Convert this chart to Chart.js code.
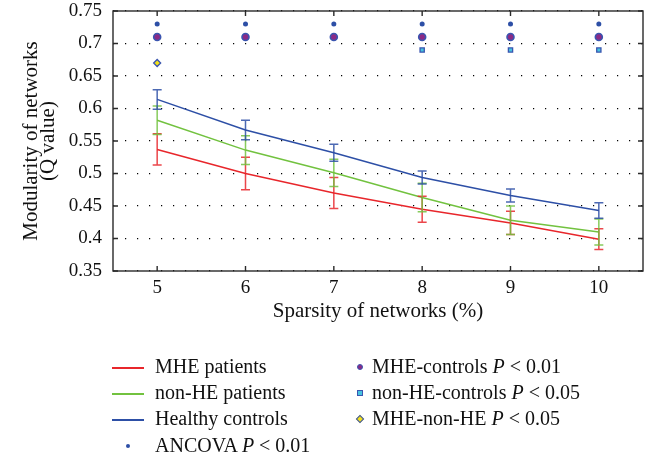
<!DOCTYPE html>
<html>
<head>
<meta charset="utf-8">
<script src="https://cdn.jsdelivr.net/npm/chart.js@4"></script>
<style>
  body { margin: 0; background: #fff; }
  #wrap { position: relative; width: 651px; height: 461px; }
  #legend { position: absolute; left: 0; top: 0; width: 651px; height: 461px; pointer-events: none;
    font-family: "Liberation Serif", "DejaVu Serif", serif; font-size: 20px; color: #111; }
  .item { position: absolute; white-space: nowrap; line-height: 22px; }
  .swatch { position: absolute; }
</style>
</head>
<body>
<div id="wrap">
  <canvas id="chart" width="651" height="461"></canvas>
  <div id="legend"></div>
</div>
<script>
const sparsity = [5, 6, 7, 8, 9, 10];

const mhePatients = [0.537, 0.500, 0.470, 0.445, 0.424, 0.399];
const mheErr = [0.024, 0.025, 0.024, 0.020, 0.018, 0.016];

const nonHePatients = [0.582, 0.536, 0.501, 0.463, 0.428, 0.410];
const nonHeErr = [0.022, 0.022, 0.021, 0.022, 0.022, 0.020];

const healthyControls = [0.614, 0.567, 0.532, 0.494, 0.466, 0.443];
const healthyErr = [0.015, 0.015, 0.013, 0.010, 0.010, 0.012];

const ancovaX = [5, 6, 7, 8, 9, 10];
const ancovaY = [0.73, 0.73, 0.73, 0.73, 0.73, 0.73];
const mheControlsX = [5, 6, 7, 8, 9, 10];
const mheControlsY = [0.71, 0.71, 0.71, 0.71, 0.71, 0.71];
const nonHeControlsX = [8, 9, 10];
const nonHeControlsY = [0.69, 0.69, 0.69];
const mheNonHeX = [5];
const mheNonHeY = [0.67];

const yTicks = [0.35, 0.4, 0.45, 0.5, 0.55, 0.6, 0.65, 0.7, 0.75];

const RED = "#e8262b";
const GREEN = "#72c23f";
const BLUE = "#2d4fa6";
const SERIF = "'Liberation Serif', 'DejaVu Serif', serif";

function toPoints(xs, ys) {
  return xs.map((x, i) => ({ x: x, y: ys[i] }));
}

// error bars drawn through the chart scales
const errorBars = {
  id: "errorBars",
  afterDatasetsDraw(chart) {
    const ctx = chart.ctx;
    const xs = chart.scales.x;
    const ys = chart.scales.y;
    chart.data.datasets.forEach((ds) => {
      if (!ds.errors) return;
      ctx.save();
      ctx.strokeStyle = ds.borderColor;
      ctx.globalAlpha = 0.85;
      ctx.lineWidth = 1.5;
      ds.data.forEach((p, i) => {
        const x = xs.getPixelForValue(p.x);
        const top = ys.getPixelForValue(p.y + ds.errors[i]);
        const bot = ys.getPixelForValue(p.y - ds.errors[i]);
        ctx.beginPath();
        ctx.moveTo(x, top); ctx.lineTo(x, bot);
        ctx.moveTo(x - 4.5, top); ctx.lineTo(x + 4.5, top);
        ctx.moveTo(x - 4.5, bot); ctx.lineTo(x + 4.5, bot);
        ctx.stroke();
      });
      ctx.restore();
    });
  }
};

// box frame with inward ticks on every side
const frame = {
  id: "frame",
  afterDraw(chart) {
    const ctx = chart.ctx;
    const a = chart.chartArea;
    const xs = chart.scales.x;
    const ys = chart.scales.y;
    ctx.save();
    ctx.strokeStyle = "#2a2a2a";
    ctx.lineWidth = 1.4;
    ctx.strokeRect(a.left, a.top, a.right - a.left, a.bottom - a.top);
    ctx.beginPath();
    sparsity.forEach((v) => {
      const x = xs.getPixelForValue(v);
      ctx.moveTo(x, a.bottom); ctx.lineTo(x, a.bottom - 5);
      ctx.moveTo(x, a.top); ctx.lineTo(x, a.top + 5);
    });
    yTicks.forEach((v) => {
      const y = ys.getPixelForValue(v);
      ctx.moveTo(a.left, y); ctx.lineTo(a.left + 5, y);
      ctx.moveTo(a.right, y); ctx.lineTo(a.right - 5, y);
    });
    ctx.stroke();
    ctx.restore();
  }
};

const lineDefaults = { showLine: true, pointRadius: 0, borderWidth: 1.5, fill: false, tension: 0 };

const chart = new Chart(document.querySelector("#chart").getContext("2d"), {
  type: "scatter",
  data: {
    datasets: [
      { ...lineDefaults, label: "MHE patients", data: toPoints(sparsity, mhePatients), errors: mheErr, borderColor: RED, backgroundColor: RED },
      { ...lineDefaults, label: "non-HE patients", data: toPoints(sparsity, nonHePatients), errors: nonHeErr, borderColor: GREEN, backgroundColor: GREEN },
      { ...lineDefaults, label: "Healthy controls", data: toPoints(sparsity, healthyControls), errors: healthyErr, borderColor: BLUE, backgroundColor: BLUE },
      { label: "ANCOVA", data: toPoints(ancovaX, ancovaY), pointStyle: "circle", pointRadius: 2.5, backgroundColor: BLUE, borderColor: BLUE, borderWidth: 0 },
      { label: "MHE-controls", data: toPoints(mheControlsX, mheControlsY), pointStyle: "circle", pointRadius: 3.5, backgroundColor: "#8b2a86", borderColor: "#3a55b0", borderWidth: 1.6 },
      { label: "non-HE-controls", data: toPoints(nonHeControlsX, nonHeControlsY), pointStyle: "rect", pointRadius: 3, backgroundColor: "#46c3df", borderColor: "#3a55b0", borderWidth: 1.3 },
      { label: "MHE-non-HE", data: toPoints(mheNonHeX, mheNonHeY), pointStyle: "rectRot", pointRadius: 3.5, backgroundColor: "#f2e01a", borderColor: "#3a55b0", borderWidth: 1.3 }
    ]
  },
  options: {
    responsive: false,
    animation: false,
    layout: { padding: { top: 11, right: 8, bottom: 121, left: 0 } },
    plugins: { legend: { display: false }, tooltip: { enabled: false } },
    scales: {
      x: {
        type: "linear",
        min: 4.5,
        max: 10.5,
        afterBuildTicks(scale) { scale.ticks = sparsity.map((v) => ({ value: v })); },
        afterFit(scale) { scale.height = 69; scale.paddingLeft = 0; scale.paddingRight = 0; },
        grid: { display: false, drawTicks: false },
        border: { display: false },
        ticks: { color: "#111", font: { family: SERIF, size: 19 }, padding: 6 },
        title: { display: true, text: "Sparsity of networks (%)", color: "#111", font: { family: SERIF, size: 21 }, padding: { top: 4, bottom: 16 } }
      },
      y: {
        min: 0.35,
        max: 0.75,
        afterBuildTicks(scale) { scale.ticks = yTicks.map((v) => ({ value: v })); },
        afterFit(scale) { scale.width = 113; scale.paddingTop = 0; scale.paddingBottom = 0; },
        grid: { color: "#000", lineWidth: 1.2, drawTicks: false },
        border: { display: false, dash: [1.2, 10.8] },
        ticks: { color: "#111", font: { family: SERIF, size: 19 }, padding: 11, callback: (v) => String(+v.toFixed(2)) },
        title: { display: true, text: ["Modularity of networks", "(Q value)"], color: "#111", font: { family: SERIF, size: 21, lineHeight: 0.81 }, padding: { top: 22.5, bottom: 4 } }
      }
    }
  },
  plugins: [errorBars, frame]
});

// legend in two columns below the chart
function createLegend() {
  const legend = document.querySelector("#legend");
  const left = [
    { text: "MHE patients", kind: "line", color: RED },
    { text: "non-HE patients", kind: "line", color: GREEN },
    { text: "Healthy controls", kind: "line", color: BLUE },
    { text: "ANCOVA <i>P</i> &lt; 0.01", kind: "dot" }
  ];
  const right = [
    { text: "MHE-controls <i>P</i> &lt; 0.01", kind: "circle" },
    { text: "non-HE-controls <i>P</i> &lt; 0.05", kind: "square" },
    { text: "MHE-non-HE <i>P</i> &lt; 0.05", kind: "diamond" }
  ];
  const rows = [367, 393, 419, 446];
  left.forEach((item, i) => {
    const y = rows[i];
    if (item.kind === "line") {
      legend.innerHTML += `<div class="swatch" style="left:112px;top:${y}px;width:32px;height:1.6px;background:${item.color}"></div>`;
    } else {
      legend.innerHTML += `<div class="swatch" style="left:126px;top:${y - 2}px;width:4px;height:4px;border-radius:50%;background:${BLUE}"></div>`;
    }
    legend.innerHTML += `<div class="item" style="left:155px;top:${y - 12}px">${item.text}</div>`;
  });
  right.forEach((item, i) => {
    const y = rows[i];
    let sw = "";
    if (item.kind === "circle") sw = `left:357px;top:${y - 3}px;width:4px;height:4px;border-radius:50%;background:#8b2a86;border:1.2px solid #3a55b0`;
    if (item.kind === "square") sw = `left:357px;top:${y - 3}px;width:4px;height:4px;background:#46c3df;border:1.2px solid #3a55b0`;
    if (item.kind === "diamond") sw = `left:357px;top:${y - 3}px;width:4px;height:4px;transform:rotate(45deg);background:#f2e01a;border:1.2px solid #3a55b0`;
    legend.innerHTML += `<div class="swatch" style="${sw}"></div>`;
    legend.innerHTML += `<div class="item" style="left:372px;top:${y - 12}px">${item.text}</div>`;
  });
}

createLegend();
</script>
</body>
</html>
